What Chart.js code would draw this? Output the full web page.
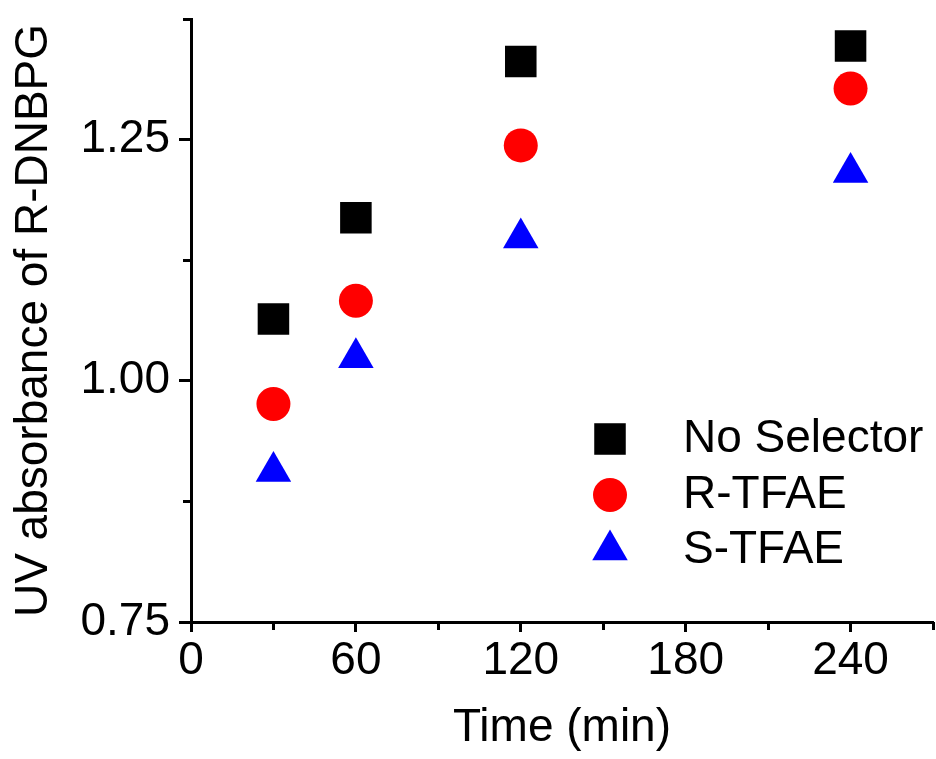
<!DOCTYPE html>
<html>
<head>
<meta charset="utf-8">
<script src="https://cdn.jsdelivr.net/npm/chart.js@4/dist/chart.umd.min.js"></script>
<style>
html,body{margin:0;padding:0;background:#fff;}
#wrap{width:936px;height:759px;}
</style>
</head>
<body>
<div id="wrap"><canvas id="c" width="936" height="759"></canvas></div>
<script>
// ---- data ----
const times = [30, 60, 120, 240];
const noSelector = [1.064, 1.169, 1.331, 1.347];
const rTFAE = [0.976, 1.083, 1.244, 1.303];
const sTFAE = [0.906, 1.024, 1.148, 1.216];
const seriesLabels = ['No Selector', 'R-TFAE', 'S-TFAE'];
const xTicks = [0, 60, 120, 180, 240];
const xMinorTicks = [30, 90, 150, 210, 270];
const yTicks = [0.75, 1.00, 1.25];
const yMinorTicks = [0.875, 1.125, 1.375];
const xTitle = 'Time (min)';
const yTitle = 'UV absorbance of R-DNBPG';

const FONT = "'Liberation Sans', Arial, Helvetica, sans-serif";
const FS = 46;

function pts(arr) { return times.map((t, i) => ({x: t, y: arr[i]})); }

const minorTicks = {
  id: 'minorTicks',
  afterDraw(chart) {
    const ctx = chart.ctx, xs = chart.scales.x, ys = chart.scales.y;
    const a = chart.chartArea;
    ctx.save();
    ctx.strokeStyle = '#000';
    ctx.lineWidth = 3;
    ctx.lineCap = 'butt';
    xMinorTicks.forEach(v => {
      const px = Math.round(xs.getPixelForValue(v)) + 0.5;
      ctx.beginPath(); ctx.moveTo(px, a.bottom); ctx.lineTo(px, a.bottom + 8); ctx.stroke();
    });
    yMinorTicks.forEach(v => {
      const py = Math.round(ys.getPixelForValue(v)) + 0.5;
      ctx.beginPath(); ctx.moveTo(a.left - 8, py); ctx.lineTo(a.left, py); ctx.stroke();
    });
    ctx.restore();
  }
};

const insideLegend = {
  id: 'insideLegend',
  afterDraw(chart) {
    const ctx = chart.ctx;
    const rows = [439, 495, 550];
    const sx = 610, tx = 683;
    ctx.save();
    chart.data.datasets.forEach((ds, i) => {
      const y = rows[i];
      ctx.fillStyle = ds.backgroundColor;
      ctx.strokeStyle = ds.backgroundColor;
      Chart.helpers.drawPoint(ctx, {pointStyle: ds.pointStyle, radius: ds.pointRadius, borderWidth: 0, rotation: 0}, sx, y);
      ctx.fillStyle = '#000';
      ctx.font = FS + 'px ' + FONT;
      ctx.textAlign = 'left';
      ctx.textBaseline = 'middle';
      ctx.fillText(ds.label, tx, y);
    });
    ctx.restore();
  }
};

new Chart(document.getElementById('c'), {
  type: 'scatter',
  data: {
    datasets: [
      {label: seriesLabels[0], data: pts(noSelector), pointStyle: 'rect', pointRadius: 22.3, pointHoverRadius: 22.3,
       backgroundColor: '#000000', borderColor: '#000000', pointBorderWidth: 0, showLine: false},
      {label: seriesLabels[1], data: pts(rTFAE), pointStyle: 'circle', pointRadius: 17, pointHoverRadius: 17,
       backgroundColor: '#ff0000', borderColor: '#ff0000', pointBorderWidth: 0, showLine: false},
      {label: seriesLabels[2], data: pts(sTFAE), pointStyle: 'triangle', pointRadius: 20.5, pointHoverRadius: 20.5,
       backgroundColor: '#0000ff', borderColor: '#0000ff', pointBorderWidth: 0, showLine: false}
    ]
  },
  options: {
    responsive: false,
    devicePixelRatio: 1,
    animation: false,
    clip: false,
    events: [],
    layout: {autoPadding: false, padding: {left: 0, right: 3, top: 19, bottom: 0}},
    plugins: {legend: {display: false}, tooltip: {enabled: false}},
    scales: {
      x: {
        type: 'linear', min: 0, max: 270,
        afterBuildTicks: s => { s.ticks = xTicks.map(v => ({value: v})); },
        afterFit: s => { s.height = 137; s.paddingLeft = 0; s.paddingRight = 0; },
        ticks: {color: '#000', font: {family: FONT, size: FS}, padding: 2, maxRotation: 0, autoSkip: false,
                callback: v => String(v)},
        grid: {display: true, drawOnChartArea: false, drawTicks: true, tickLength: 10, tickWidth: 3, tickColor: '#000'},
        border: {display: true, color: '#000', width: 3},
        title: {display: true, text: xTitle, color: '#000', font: {family: FONT, size: FS}, padding: {top: 0, bottom: 3}}
      },
      y: {
        type: 'linear', min: 0.75, max: 1.375,
        afterBuildTicks: s => { s.ticks = yTicks.map(v => ({value: v})); },
        afterFit: s => { s.width = 191; s.paddingTop = 0; s.paddingBottom = 0; },
        ticks: {color: '#000', font: {family: FONT, size: FS}, padding: 9, autoSkip: false,
                callback: v => Number(v).toFixed(2)},
        grid: {display: true, drawOnChartArea: false, drawTicks: true, tickLength: 12, tickWidth: 3, tickColor: '#000'},
        border: {display: true, color: '#000', width: 3},
        title: {display: true, text: yTitle, color: '#000', font: {family: FONT, size: FS}, padding: {top: 7, bottom: 0}}
      }
    }
  },
  plugins: [minorTicks, insideLegend]
});
</script>
</body>
</html>
